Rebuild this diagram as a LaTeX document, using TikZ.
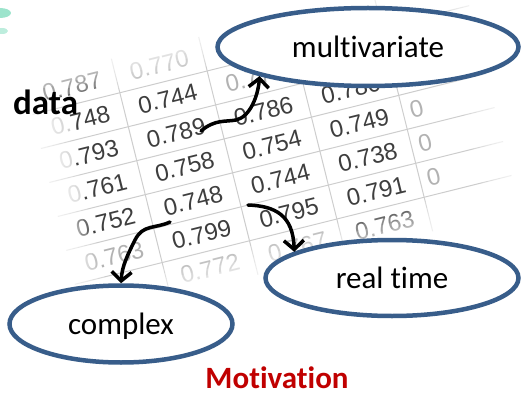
\documentclass[tikz,border=0pt]{standalone}
\usepackage{fontspec}
\setmainfont{Carlito}[Ligatures=CommonOff]
\newfontfamily\tabfont{Liberation Sans}
\usepackage{tikz}
\usetikzlibrary{arrows.meta, positioning, shapes.geometric}
\definecolor{ovalblue}{RGB}{56,93,138}
\definecolor{motivred}{RGB}{192,0,0}
\definecolor{numgray}{RGB}{62,62,62}
\definecolor{gridgray}{RGB}{205,205,205}
\definecolor{blobteal}{RGB}{90,210,170}
\newcommand{\pale}[1]{\textcolor{numgray!25}{#1}}
\tikzset{
  oval/.style={ellipse, draw=ovalblue, line width=4.5pt, fill=white,
    text depth=0pt, font=\fontsize{31}{37}\selectfont},
  wavy/.style={line width=3.5pt, line cap=round,
    -{Straight Barb[length=9pt,width=20pt]}},
  num/.style={font=\tabfont\fontsize{24}{28}\selectfont, text=numgray, inner sep=0pt},
  faint/.style={num, text=numgray!40},
  zero/.style={faint, xshift=-31pt},
}

\begin{document}
\begin{tikzpicture}[x=1pt, y=-1pt]
\useasboundingbox (0,0) rectangle (522,393);
% scanned table behind the ovals
\begin{scope}[shift={(272,145)}, rotate=14, transform shape]
\foreach \c in {-135,-45,45,135}
  \draw[gridgray, line width=1pt] (\c,-122.5) -- (\c,122.5);
\foreach \r in {-87.5,-52.5,...,90}
  \draw[gridgray, line width=1pt] (-225,\r) -- (225,\r);
\foreach \r/\c/\v/\s in {
    1/1/0.787/num, 1/2/0.770/faint,
    2/1/{\pale{0.}748}/num, 2/2/0.744/num, 2/3/0.774/faint,
    3/1/{\pale{0}.793}/num, 3/2/0.789/num, 3/3/0.786/num, 3/4/0.780/num,
    4/1/{\pale{0}.761}/num, 4/2/0.758/num, 4/3/0.754/num, 4/4/0.749/num, 4/5/0/zero,
    5/1/0.752/num, 5/2/0.748/num, 5/3/0.744/num, 5/4/0.738/num, 5/5/0/zero,
    6/1/0.763/faint, 6/2/0.799/num, 6/3/0.795/num, 6/4/0.791/num, 6/5/0/zero,
    7/2/0.772/faint, 7/3/0.767/faint, 7/4/0.763/num}
  \node[\s] (tab-\r-\c) at ({(\c-3)*90},{(\r-4)*35}) {\v};
% washed out border of the scan
\foreach \k in {1,...,5}
  \fill[white, opacity=.22, even odd rule] (-232,-130) rectangle (232,130)
    (-225+6*\k,-122.5+6*\k) rectangle (225-6*\k,122.5-6*\k);
\end{scope}
\fill[blobteal, opacity=.6] (0,13) ellipse (11 and 5);
\fill[blobteal, opacity=.4] (2,31) ellipse (6 and 3);

\node[oval, minimum width=301pt, minimum height=78pt] (multi) at (368,47) {multivariate};
\node[oval, minimum width=253pt, minimum height=76pt] (rt) at (392,278) {real time};
\node[oval, minimum width=223pt, minimum height=77pt] (cplx) at (121,324) {complex};
\node[font=\bfseries\fontsize{35}{40}\selectfont, anchor=base west, inner sep=0pt]
  (data) at (13,115) {data};
\node[font=\bfseries\fontsize{31}{37}\selectfont, text=motivred, inner sep=0pt]
  (motiv) at (277,378) {Motivation};

\coordinate (s1) at (201,131);
\coordinate (s2) at (170,222);
\coordinate (s3) at (248,205);
\draw[wavy] (s1) .. controls (215,119) and (226,122) .. (236,120)
  .. controls (250,117) and (258,96) .. (multi.195);
\draw[wavy] (s2) .. controls (155,229) and (143,224) .. (135,240)
  .. controls (128,254) and (122,266) .. (cplx.north);
\draw[wavy] (s3) .. controls (275,206) and (293,215) .. (rt.165);
\end{tikzpicture}
\end{document}
